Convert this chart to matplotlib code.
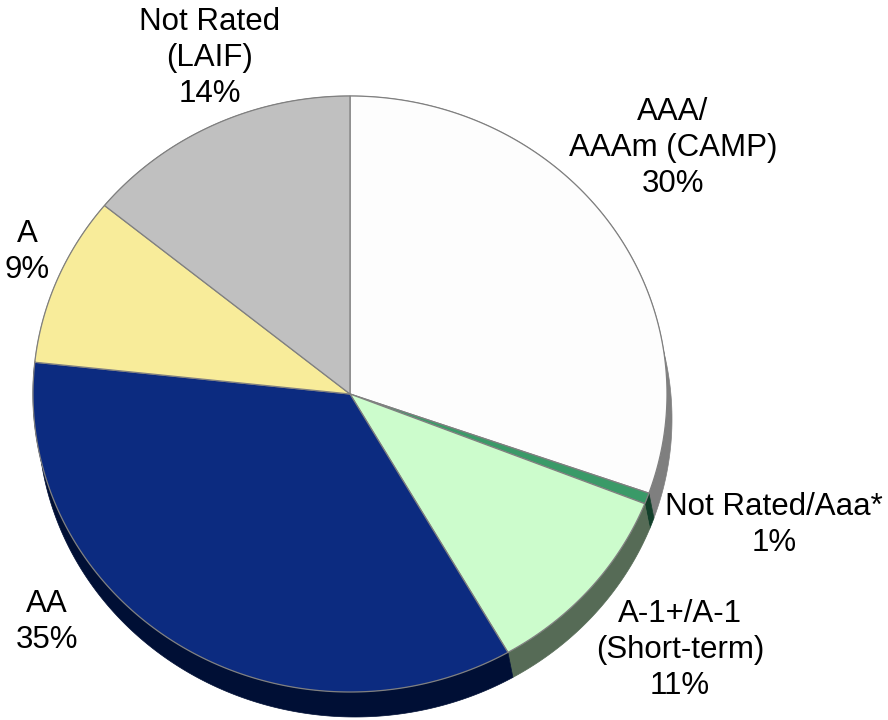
import numpy as np
import matplotlib.pyplot as plt
import matplotlib
from matplotlib.patches import Polygon

matplotlib.use('Agg')
plt.rcParams['font.family'] = ['Liberation Sans', 'DejaVu Sans']

# Data (share of portfolio, clockwise from 12 o'clock)
labels = ['AAA/\nAAAm (CAMP)', 'Not Rated/Aaa*', 'A-1+/A-1\n(Short-term)', 'AA', 'A', 'Not Rated\n(LAIF)']
values = [30.4, 0.6, 10.7, 35.0, 9.2, 14.1]
top_colors = ['#fdfdfd', '#3a9a68', '#ccfccc', '#0c2b80', '#f8ec9a', '#c0c0c0']
side_colors = ['#7f7f7f', '#123f2a', '#566b56', '#000f35', '#9c9460', '#7a7a7a']
label_pos = [(673, 148), (774, 525), (680, 650), (47, 622), (27, 252), (210, 58)]

# Pie geometry in pixel space
cx, cy, rx, ry = 350, 394, 317, 298
ddx, ddy = 5, 25

fig = plt.figure(figsize=(8.88, 7.2), dpi=100)
ax = fig.add_axes([0, 0, 1, 1])
ax.set_xlim(0, 888)
ax.set_ylim(720, 0)
ax.axis('off')

fracs = np.array(values) / sum(values)
bounds = np.concatenate([[0], np.cumsum(fracs)]) * 2 * np.pi

def arc(t0, t1, n=200):
    t = np.linspace(t0, t1, n)
    return cx + rx * np.sin(t), cy - ry * np.cos(t)

# sides first
for i in range(len(values)):
    x, y = arc(bounds[i], bounds[i + 1])
    pts = np.column_stack([np.concatenate([x, (x + ddx)[::-1]]),
                           np.concatenate([y, (y + ddy)[::-1]])])
    ax.add_patch(Polygon(pts, closed=True, facecolor=side_colors[i],
                         edgecolor=side_colors[i], lw=0.5, zorder=1))

# top surface
for i in range(len(values)):
    x, y = arc(bounds[i], bounds[i + 1])
    pts = np.column_stack([np.concatenate([[cx], x]), np.concatenate([[cy], y])])
    ax.add_patch(Polygon(pts, closed=True, facecolor=top_colors[i],
                         edgecolor='#808080', lw=0.9, zorder=2))

# labels
for lab, v, (lx, ly) in zip(labels, values, label_pos):
    ax.text(lx, ly, f'{lab}\n{round(v):.0f}%', ha='center', va='center',
            fontsize=22.5, linespacing=1.25, color='black', zorder=3)

plt.savefig('out.png', dpi=100)
plt.close()
